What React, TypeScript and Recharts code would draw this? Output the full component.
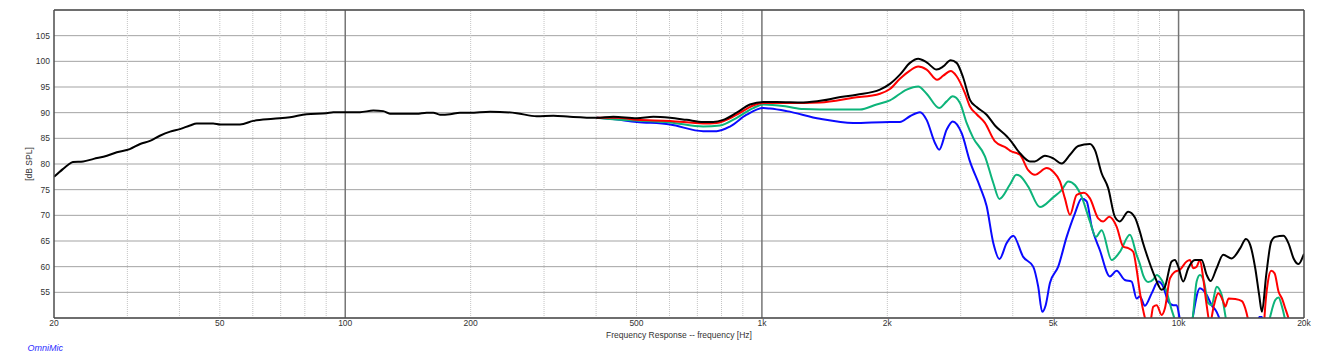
import React from 'react';
import { LineChart, Line, XAxis, YAxis, CartesianGrid, ReferenceLine, Label } from 'recharts';

// Frequency ticks and grid
const xTicks = [20, 50, 100, 200, 500, 1000, 2000, 5000, 10000, 20000];
const yTicks = [50, 55, 60, 65, 70, 75, 80, 85, 90, 95, 100, 105, 110];
const minorFreqs = [30, 40, 50, 60, 70, 80, 90, 200, 300, 400, 500, 600, 700, 800, 900,
  2000, 3000, 4000, 5000, 6000, 7000, 8000, 9000];
const majorFreqs = [100, 1000, 10000];

// Series: [frequency Hz, dB SPL]
const blackCurve: [number, number][] = [
  [20, 77.5], [21, 79.0], [21.6, 79.8], [22.2, 80.4], [23.5, 80.5], [24.9, 81.0], [26.8, 81.6],
  [28.3, 82.3], [30.4, 82.9], [32.2, 83.9], [34, 84.5], [35.9, 85.5], [38, 86.3], [40.1, 86.8],
  [42.4, 87.5], [44, 87.9], [48.2, 87.9], [50.1, 87.7], [55.9, 87.7], [60.2, 88.4], [67.2, 88.8],
  [73.7, 89.1], [80.8, 89.7], [90.2, 89.9], [93.6, 90.1], [108.5, 90.1], [116.8, 90.4],
  [123.4, 90.3], [128, 89.8], [135.3, 89.8], [148.4, 89.8], [156.8, 90.0], [162.7, 90.0],
  [168.8, 89.6], [178.4, 89.7], [188.5, 90.0], [199, 90.0], [222.6, 90.2], [258, 89.9],
  [288, 89.3], [316, 89.4], [346, 89.2], [401, 89.0], [440, 89.2], [501, 88.9], [549, 89.2],
  [602, 89.0], [660, 88.6], [723, 88.2], [764, 88.2], [808, 88.6], [870, 90.0], [936, 91.6],
  [1008, 92.1], [1085, 92.1], [1257, 92.0], [1404, 92.4], [1511, 92.9], [1688, 93.5],
  [1920, 94.5], [2029, 95.6], [2144, 97.4], [2266, 99.7], [2372, 100.5], [2485, 99.8],
  [2626, 98.4], [2724, 99.0], [2838, 100.2], [2933, 99.7], [3042, 96.8], [3157, 92.5],
  [3276, 91.1], [3462, 89.6], [3625, 87.5], [3868, 85.4], [3938, 84.7], [4162, 82.1],
  [4398, 80.5], [4520, 80.5], [4778, 81.6], [5002, 81.1], [5240, 80.1], [5488, 81.8],
  [5744, 83.5], [6128, 83.9], [6300, 82.7], [6536, 78.2], [6778, 75.3], [7034, 69.7],
  [7230, 68.8], [7570, 70.7], [7856, 69.6], [8076, 66.8], [8224, 64.5], [8456, 61.5],
  [8776, 58.0], [9108, 55.5], [9274, 56.1], [9624, 61.0], [9800, 61.3], [9982, 60.0],
  [10262, 57.1], [10548, 59.7], [10946, 61.3], [11360, 61.3], [11678, 58.4], [11938, 57.2],
  [12340, 59.7], [12800, 62.3], [13408, 61.6], [14062, 63.6], [14510, 65.4], [14860, 64.2],
  [15276, 59.7], [15616, 54.4], [15850, 51.2], [16232, 58.4], [16688, 64.9], [17062, 65.8],
  [17868, 66.0], [18368, 64.5], [18882, 61.6], [19412, 60.5], [19954, 62.3], [20000, 62.5],
];

const redCurve: [number, number][] = [
  [401, 89.0], [448, 89.0], [501, 88.6], [602, 88.4], [723, 87.9], [779, 88.0], [870, 89.6],
  [953, 91.4], [1008, 91.9], [1147, 91.9], [1379, 92.0], [1656, 92.9], [1920, 93.7],
  [2029, 94.6], [2144, 96.6], [2266, 98.2], [2372, 99.0], [2485, 98.4], [2634, 96.4],
  [2724, 97.2], [2838, 98.1], [2933, 97.1], [3071, 93.8], [3157, 91.2], [3276, 89.7],
  [3430, 88.0], [3625, 84.4], [3868, 83.1], [3938, 82.6], [4162, 81.8], [4356, 78.8],
  [4520, 77.9], [4824, 79.2], [5002, 78.5], [5192, 76.6], [5336, 73.3], [5488, 70.1],
  [5694, 74.0], [5928, 74.4], [6128, 73.3], [6414, 69.4], [6594, 68.8], [6816, 69.7],
  [7100, 67.8], [7364, 63.9], [7570, 63.6], [7782, 62.9], [7930, 59.5], [8076, 55.0],
  [8224, 51.5], [8382, 49.2], [8536, 49.0], [8694, 52.2], [8860, 52.5], [9108, 50.6],
  [9274, 51.9], [9534, 57.7], [9800, 59.0], [10076, 59.4], [10456, 61.0], [10648, 61.3],
  [10842, 59.7], [11050, 60.0], [11254, 61.3], [11460, 57.7], [11678, 52.5], [11892, 49.0],
  [12158, 52.5], [12450, 54.8], [12800, 53.2], [12942, 52.2], [13188, 53.8], [13678, 53.7],
  [14192, 53.3], [14454, 51.9], [14672, 49.8], [15000, 45], [15600, 44], [16000, 47],
  [16090, 50.6], [16386, 57.1], [16688, 59.2], [17002, 58.7], [17380, 55.1], [17702, 53.8],
  [18030, 51.9], [18368, 49.8], [18800, 45], [20000, 44],
];

const greenCurve: [number, number][] = [
  [401, 89.0], [456, 88.6], [602, 88.1], [723, 87.3], [793, 87.5], [870, 89.0], [953, 90.9],
  [1008, 91.6], [1147, 91.2], [1257, 90.7], [1511, 90.6], [1719, 90.6], [1885, 91.6],
  [2029, 92.4], [2226, 94.5], [2372, 95.1], [2485, 93.7], [2664, 90.9], [2776, 92.2],
  [2870, 93.2], [2988, 91.9], [3100, 88.0], [3214, 85.1], [3430, 81.5], [3592, 76.3],
  [3716, 73.2], [3938, 76.0], [4080, 77.9], [4162, 77.7], [4356, 75.6], [4648, 71.6],
  [5002, 73.5], [5240, 74.9], [5436, 76.6], [5640, 75.9], [5854, 73.6], [6128, 68.8],
  [6334, 65.8], [6536, 67.1], [6908, 61.3], [7230, 62.9], [7642, 66.2], [7930, 62.3],
  [8076, 60.5], [8224, 58.3], [8456, 57.0], [8694, 57.5], [8860, 58.4], [9108, 57.4],
  [9362, 55.1], [9624, 51.6], [9800, 49.6], [10100, 45], [10500, 45], [10808, 49.9],
  [11050, 57.1], [11254, 58.4], [11504, 57.1], [11780, 52.9], [12004, 52.5], [12340, 56.1],
  [12688, 54.5], [12942, 50.6], [13300, 45], [16000, 44], [16596, 50.3], [17062, 53.5],
  [17380, 54.0], [17672, 52.5], [17968, 50.1], [18400, 45], [20000, 44],
];

const blueCurve: [number, number][] = [
  [401, 89.0], [432, 88.8], [501, 88.2], [602, 87.7], [723, 86.4], [779, 86.4], [838, 87.3],
  [919, 89.6], [1008, 90.9], [1046, 90.8], [1147, 90.3], [1379, 88.8], [1656, 88.0],
  [2029, 88.2], [2144, 88.2], [2266, 89.3], [2396, 90.1], [2485, 88.6], [2602, 84.1],
  [2664, 82.8], [2776, 86.7], [2870, 88.3], [3016, 86.0], [3157, 80.5], [3336, 75.6],
  [3462, 71.8], [3592, 64.6], [3716, 61.5], [3868, 64.6], [4010, 66.0], [4238, 61.9],
  [4478, 60.0], [4604, 56.1], [4706, 51.2], [4798, 52.5], [4912, 56.8], [5142, 60.0],
  [5388, 65.8], [5640, 70.4], [5854, 73.3], [6018, 72.7], [6186, 67.8], [6474, 63.2],
  [6842, 58.1], [7100, 59.2], [7434, 57.4], [7714, 57.1], [7930, 53.8], [8076, 54.2],
  [8302, 52.4], [8618, 54.8], [8936, 57.1], [9188, 56.1], [9444, 53.2], [9708, 52.5],
  [9894, 52.5], [10076, 49.6], [10300, 45], [10600, 45], [10842, 50.6], [11254, 55.8],
  [11678, 54.5], [12004, 52.5], [12340, 51.2], [12568, 49.6], [13000, 45], [15200, 45],
  [15616, 50.2], [15850, 50.2], [16300, 45], [20000, 44],
];

const toPoints = (pairs: [number, number][]) => pairs.map(([f, spl]) => ({ f, spl }));

const FONT = '"Liberation Sans", Arial, Helvetica, sans-serif';
const fmtFreq = (v: number) => (v >= 1000 ? `${v / 1000}k` : `${v}`);
const fmtDb = (v: number) => (v === 50 || v === 110 ? '' : `${v}`);

export default function App() {
  return (
    <div style={{ position: 'absolute', left: 0, top: 0, width: 1317, height: 362, background: '#fff' }}>
      <LineChart width={1317} height={362} margin={{ top: 10, right: 13, bottom: 0, left: 0 }}>
        <CartesianGrid horizontal vertical={false} stroke="#a3a3a3" strokeWidth={1} />
        <XAxis
          dataKey="f"
          type="number"
          scale="log"
          domain={[20, 20000]}
          allowDataOverflow
          ticks={xTicks}
          tickFormatter={fmtFreq}
          height={44}
          axisLine={false}
          tickLine={false}
          tickSize={0}
          tickMargin={1.5}
          interval={0}
          tick={{ fontSize: 8.5, fill: '#333', fontFamily: FONT }}
        >
          <Label
            value="Frequency Response -- frequency [Hz]"
            position="insideBottom"
            offset={24}
            fontSize={8.5}
            fill="#333"
            fontFamily={FONT}
          />
        </XAxis>
        <YAxis
          type="number"
          domain={[50, 110]}
          allowDataOverflow
          ticks={yTicks}
          tickFormatter={fmtDb}
          width={54}
          axisLine={false}
          tickLine={false}
          tickSize={0}
          tickMargin={4}
          interval={0}
          tick={{ fontSize: 8.5, fill: '#333', fontFamily: FONT }}
        >
          <Label
            content={(props: any) => {
              const vb = props.viewBox || { x: 0, y: 10, width: 54, height: 308 };
              const cx = vb.x + 31.5;
              const cy = vb.y + vb.height / 2;
              return (
                <text
                  x={cx}
                  y={cy}
                  transform={`rotate(-90 ${cx} ${cy})`}
                  textAnchor="middle"
                  fontSize={8.5}
                  fill="#333"
                  fontFamily={FONT}
                >
                  [dB SPL]
                </text>
              );
            }}
          />
        </YAxis>
        {minorFreqs.map((f) => (
          <ReferenceLine key={`m${f}`} x={f} stroke="#c4c4c4" strokeWidth={1} strokeDasharray="1 1" />
        ))}
        {majorFreqs.map((f) => (
          <ReferenceLine key={`M${f}`} x={f} stroke="#757575" strokeWidth={1.5} />
        ))}
        <Line data={toPoints(blueCurve)} dataKey="spl" type="monotone" stroke="#0a0aff" strokeWidth={2} dot={false} isAnimationActive={false} />
        <Line data={toPoints(greenCurve)} dataKey="spl" type="monotone" stroke="#0db47a" strokeWidth={2} dot={false} isAnimationActive={false} />
        <Line data={toPoints(redCurve)} dataKey="spl" type="monotone" stroke="#ff0000" strokeWidth={2} dot={false} isAnimationActive={false} />
        <Line data={toPoints(blackCurve)} dataKey="spl" type="monotone" stroke="#000000" strokeWidth={2} dot={false} isAnimationActive={false} />
        <ReferenceLine x={20} stroke="#4d4d4d" strokeWidth={1.5} />
        <ReferenceLine x={20000} stroke="#4d4d4d" strokeWidth={1.5} />
        <ReferenceLine y={110} stroke="#4d4d4d" strokeWidth={1.5} />
        <ReferenceLine y={50} stroke="#4d4d4d" strokeWidth={1.5} />
      </LineChart>
      <div
        style={{
          position: 'absolute',
          left: 27.5,
          top: 343,
          fontFamily: FONT,
          fontStyle: 'italic',
          fontSize: 9,
          lineHeight: '11px',
          color: '#2b2bff',
        }}
      >
        OmniMic
      </div>
    </div>
  );
}
